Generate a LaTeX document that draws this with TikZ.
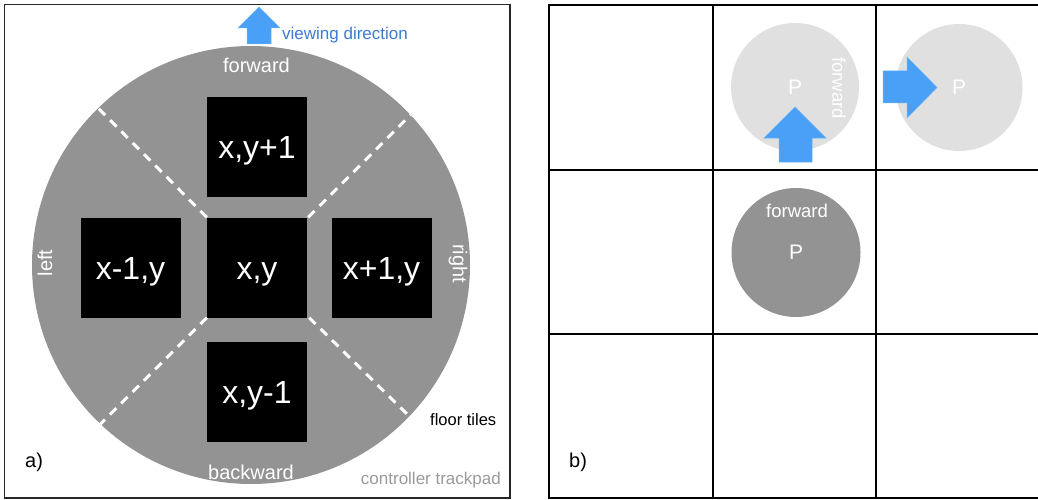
\documentclass[tikz,border=0pt]{standalone}
\usepackage{fontspec}
\setmainfont{Liberation Sans}
\newcommand\myfs[1]{\fontsize{#1}{#1}\selectfont}
\definecolor{pad}{HTML}{939393}
\definecolor{lightpad}{HTML}{E0E0E0}
\definecolor{arrowblue}{HTML}{4AA0F6}
\definecolor{textblue}{HTML}{3B7BD0}
\definecolor{labelgray}{HTML}{9A9A9A}
\begin{document}
\begin{tikzpicture}[x=1pt,y=-1pt,
  tile/.style={fill=black,text=white,minimum width=100pt,minimum height=100pt,
    inner sep=0pt,font=\myfs{32},text height=23pt,text depth=0pt},
  sep/.style={white,line width=3pt,dash pattern=on 9pt off 7pt},
  padtext/.style={text=white,font=\myfs{20},inner sep=0pt},
  disc/.style={circle,inner sep=0pt,text=white,font=\myfs{21}},
  bluearrow/.style={fill=arrowblue,draw=arrowblue!80!white,line width=0.5pt},
  gridline/.style={line width=2pt,black}]
\useasboundingbox (0,0) rectangle (1038,500);

% ---------- panel a ----------
\draw[line width=1.5pt,black!85] (4.5,4.5) rectangle (510,498);
\node[circle,fill=pad,minimum size=438pt,inner sep=0pt] (pad) at (251,265) {};

\node[tile] (top) at (257,147) {x,y+1};
\node[tile] (lft) at (130.5,267.5) {x-1,y};
\node[tile] (ctr) at (257,267.5) {x,y};
\node[tile] (rgt) at (381.5,267.5) {x+1,y};
\node[tile] (bot) at (257,391.5) {x,y-1};

\coordinate (ul) at (98,108);
\coordinate (ur) at (410.5,115);
\coordinate (ll) at (100.5,424);
\coordinate (lr) at (409,416);
\draw[sep] (ctr.north west) -- (ul);
\draw[sep] ([xshift=1pt]ctr.north east) -- (ur);
\draw[sep] (ctr.south west) -- (ll);
\draw[sep] ([xshift=2pt]ctr.south east) -- (lr);

\node[padtext] (fwd) at (256.5,65) {forward};
\node[padtext] (bwd) at (251,472) {backward};
\node[padtext,rotate=90] (lefttxt) at (45,263) {left};
\node[padtext,rotate=-90] (righttxt) at (458,263.5) {right};

\node[anchor=west,inner sep=0pt,font=\myfs{16.5}] (floor) at (430,420) {floor tiles};
\node[anchor=east,inner sep=0pt,font=\myfs{17},text=labelgray] (ctrl) at (501,480) {controller trackpad};
\node[anchor=west,inner sep=0pt,font=\myfs{20}] (la) at (25,462) {a)};

\draw[bluearrow] (247,44) -- (247,28) -- (238,28) -- (259,7) -- (280,28) -- (271,28) -- (271,44) -- cycle;
\node[anchor=west,inner sep=0pt,font=\myfs{17},text=textblue] (view) at (282,35) {viewing direction};

% ---------- panel b ----------
\draw[gridline] (549,5) rectangle (1046,498);
\draw[gridline] (713,5) -- (713,498);
\draw[gridline] (876,5) -- (876,498);
\draw[gridline] (549,170) -- (1046,170);
\draw[gridline] (549,334) -- (1046,334);

\node[disc,fill=lightpad,minimum size=128pt] (p1) at (795,87) {P};
\node[disc,fill=lightpad,minimum size=127pt] (p2) at (959,87.5) {P};
\node[disc,fill=pad,minimum size=129pt] (p0) at (796,252.5) {P};

\node[text=white,font=\myfs{18.5},inner sep=0pt,rotate=-90] (f1) at (839,88) {forward};
\node[text=white,font=\myfs{18.5},inner sep=0pt] (f0) at (797,211) {forward};

\draw[bluearrow] (779,162) -- (779,138) -- (764,138) -- (795,107) -- (826,138) -- (812,138) -- (812,162) -- cycle;
\draw[bluearrow] (883,71) -- (907,71) -- (907,57) -- (937,87.5) -- (907,118) -- (907,103) -- (883,103) -- cycle;

\node[anchor=west,inner sep=0pt,font=\myfs{20}] (lb) at (569,462) {b)};
\end{tikzpicture}
\end{document}
